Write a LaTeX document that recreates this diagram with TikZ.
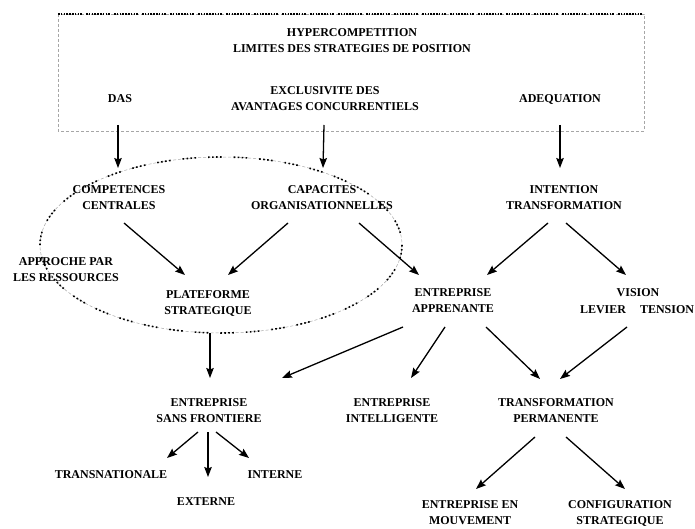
\documentclass[tikz,border=0pt]{standalone}
\usepackage{fontspec}
\setmainfont{Liberation Serif}
\usetikzlibrary{arrows.meta}
\begin{document}
\begin{tikzpicture}[x=1pt,y=-1pt,
  lbl/.style={font=\bfseries\fontsize{12}{16}\selectfont, align=center, inner sep=0pt, text depth=0pt},
  arr/.style={line width=1.3pt, -{Stealth[length=10pt,width=7.5pt,inset=1.5pt]}},
  graydash/.style={draw=gray!70, line width=0.5pt, dash pattern=on 3pt off 2pt},
  blackdot/.style={draw=black, line width=1.6pt, dash pattern=on 1.6pt off 2.4pt on 1.6pt off 2.4pt on 1.6pt off 2.4pt on 1.6pt off 12pt}]
\useasboundingbox (0,0) rectangle (695,529);
% top frame
\draw[graydash] (58,14) rectangle (644,131);
\draw[draw=black, line width=1.6pt, dash pattern=on 1.6pt off 1.2pt on 1.6pt off 1.2pt on 1.6pt off 1.2pt on 1.6pt off 1.2pt on 1.6pt off 1.2pt on 1.6pt off 1.2pt on 1.6pt off 1.2pt on 1.6pt off 1.2pt on 1.6pt off 4pt] (58,14) -- (644,14);
% ellipse
\draw[graydash] (221,245) ellipse [x radius=181, y radius=88];
\draw[blackdot] (221,245) ellipse [x radius=181, y radius=88];
% texts
\node[lbl] (hyp) at (352,41) {HYPERCOMPETITION\\LIMITES DES STRATEGIES DE POSITION};
\node[lbl] (das) at (120,99) {DAS};
\node[lbl] (excl) at (325,99) {EXCLUSIVITE DES\\AVANTAGES CONCURRENTIELS};
\node[lbl] (adeq) at (560,99) {ADEQUATION};
\node[lbl] (comp) at (119,198) {COMPETENCES\\CENTRALES};
\node[lbl] (capa) at (322,198) {CAPACITES\\ORGANISATIONNELLES};
\node[lbl] (intent) at (564,198) {INTENTION\\TRANSFORMATION};
\node[lbl] (appr) at (66,270) {APPROCHE PAR\\LES RESSOURCES};
\node[lbl] (plat) at (208,303) {PLATEFORME\\STRATEGIQUE};
\node[lbl] (eapp) at (453,301) {ENTREPRISE\\APPRENANTE};
\node[lbl] (vision) at (638,293) {VISION};
\node[lbl] (levier) at (603,310) {LEVIER};
\node[lbl] (tension) at (667,310) {TENSION};
\node[lbl] (esf) at (209,411) {ENTREPRISE\\SANS FRONTIERE};
\node[lbl] (eint) at (392,411) {ENTREPRISE\\INTELLIGENTE};
\node[lbl] (tp) at (556,411) {TRANSFORMATION\\PERMANENTE};
\node[lbl] (trans) at (111,475) {TRANSNATIONALE};
\node[lbl] (inter) at (275,475) {INTERNE};
\node[lbl] (exter) at (206,502) {EXTERNE};
\node[lbl] (emouv) at (470,513) {ENTREPRISE EN\\MOUVEMENT};
\node[lbl] (config) at (620,513) {CONFIGURATION\\STRATEGIQUE};
% arrows
\draw[arr] ([shift={(-2,26)}]das.center) -- ([shift={(-1,-30)}]comp.center);
\draw[arr] ([shift={(-1,26)}]excl.center) -- ([shift={(1,-30)}]capa.center);
\draw[arr] ([shift={(0,26)}]adeq.center) -- ([shift={(-4,-30)}]intent.center);
\draw[arr] ([shift={(5,25)}]comp.center) -- ([shift={(-23,-28)}]plat.center);
\draw[arr] ([shift={(-34,25)}]capa.center) -- ([shift={(20,-28)}]plat.center);
\draw[arr] ([shift={(37,25)}]capa.center) -- ([shift={(-34,-26)}]eapp.center);
\draw[arr] ([shift={(-16,25)}]intent.center) -- ([shift={(34,-26)}]eapp.center);
\draw[arr] ([shift={(2,25)}]intent.center) -- ([shift={(-12,-18)}]vision.center);
\draw[arr] ([shift={(2,30)}]plat.center) -- ([shift={(1,-33)}]esf.center);
\draw[arr] ([shift={(-50,26)}]eapp.center) -- ([shift={(73,-33)}]esf.center);
\draw[arr] ([shift={(-8,26)}]eapp.center) -- ([shift={(19,-33)}]eint.center);
\draw[arr] ([shift={(33,26)}]eapp.center) -- ([shift={(-16,-32)}]tp.center);
\draw[arr] ([shift={(-11,34)}]vision.center) -- ([shift={(4,-32)}]tp.center);
\draw[arr] ([shift={(-11,21)}]esf.center) -- ([shift={(56,-17)}]trans.center);
\draw[arr] ([shift={(-1,21)}]esf.center) -- ([shift={(2,-25)}]exter.center);
\draw[arr] ([shift={(7,21)}]esf.center) -- ([shift={(-26,-17)}]inter.center);
\draw[arr] ([shift={(-21,26)}]tp.center) -- ([shift={(6,-24)}]emouv.center);
\draw[arr] ([shift={(10,26)}]tp.center) -- ([shift={(5,-24)}]config.center);
\end{tikzpicture}
\end{document}
